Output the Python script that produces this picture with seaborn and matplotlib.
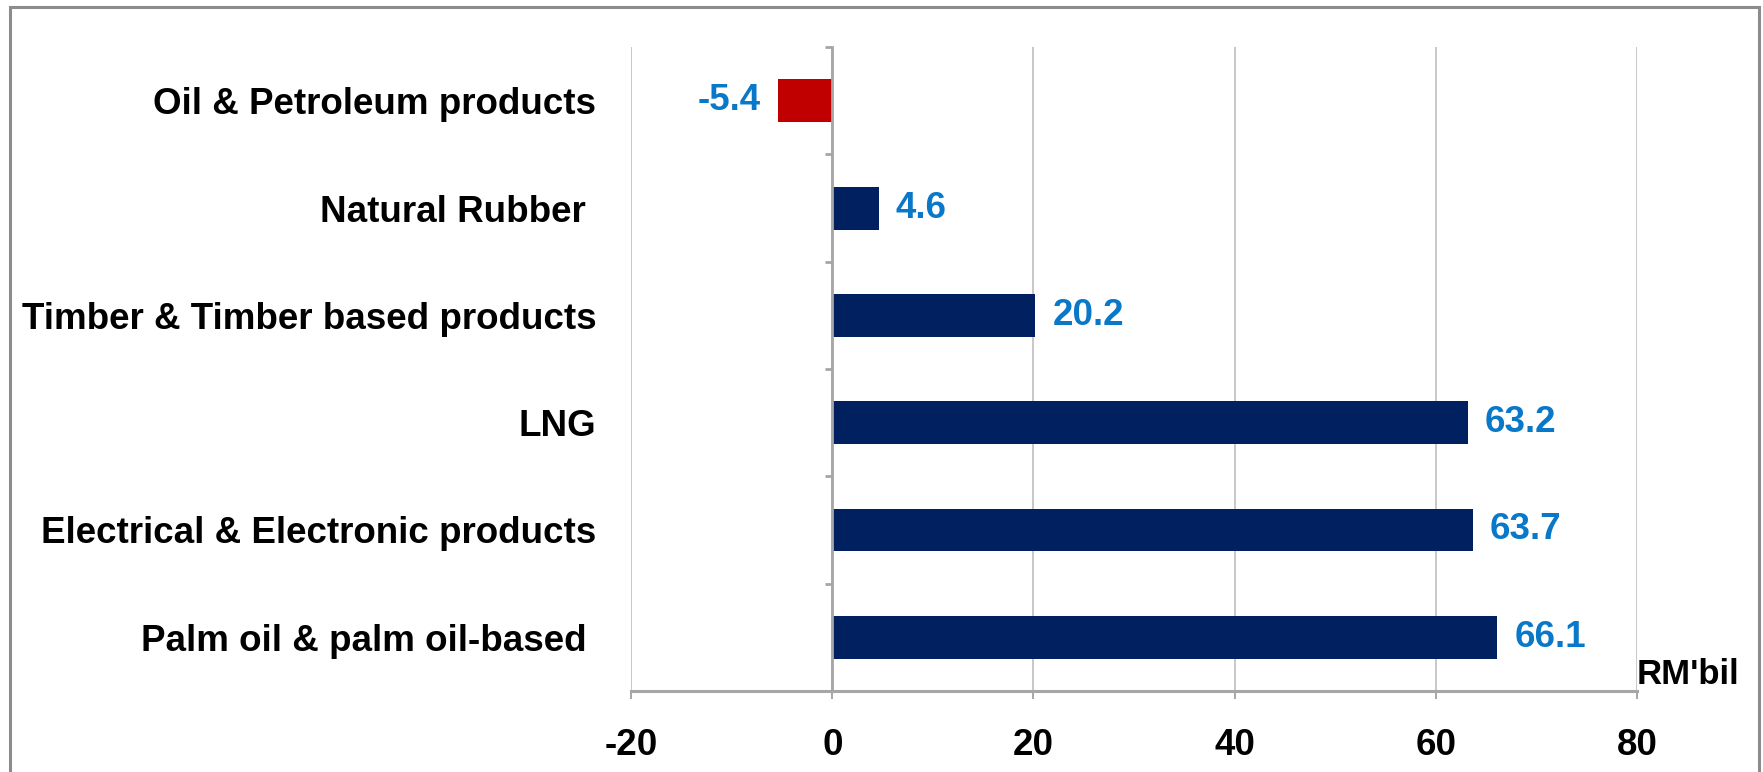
import matplotlib
matplotlib.use("Agg")
import matplotlib.pyplot as plt
from matplotlib.patches import Rectangle
from matplotlib.ticker import FixedLocator
import seaborn as sns
import pandas as pd

# Export growth by commodity, RM billion
categories = [
    "Oil & Petroleum products",
    "Natural Rubber ",
    "Timber & Timber based products",
    "LNG",
    "Electrical & Electronic products",
    "Palm oil & palm oil-based ",
]
values = [-5.4, 4.6, 20.2, 63.2, 63.7, 66.1]
value_labels = ["-5.4", "4.6", "20.2", "63.2", "63.7", "66.1"]
x_ticks = [-20, 0, 20, 40, 60, 80]
x_tick_labels = ["-20", "0", "20", "40", "60", "80"]
unit_label = "RM'bil"

NAVY = "#002060"
RED = "#C00000"
LABEL_BLUE = "#0A78C8"
GRID = "#C8C8C8"
AXIS_GREY = "#A6A6A6"
FS = 26.5

sns.set_theme(style="white")
plt.rcParams["font.family"] = ["Liberation Sans", "DejaVu Sans"]
plt.rcParams["font.weight"] = "bold"

df = pd.DataFrame({"category": categories, "value": values})
df["sign"] = ["neg" if v < 0 else "pos" for v in values]

fig = plt.figure(figsize=(17.63, 7.72), dpi=100)
ax = fig.add_axes([0.358, 0.105, 0.5705, 0.834])

sns.barplot(
    data=df, x="value", y="category", hue="sign",
    palette={"neg": RED, "pos": NAVY}, order=categories,
    width=0.4, dodge=False, legend=False, ax=ax,
    saturation=1, edgecolor="none", linewidth=0,
)

ax.set_xlim(-20, 80)
ax.set_ylim(len(categories) - 0.5, -0.5)
ax.set_xlabel("")
ax.set_ylabel("")

# vertical gridlines
ax.xaxis.set_major_locator(FixedLocator(x_ticks))
ax.set_xticklabels(x_tick_labels)
ax.grid(axis="x", color=GRID, linewidth=1.4)
ax.set_axisbelow(True)

for side in ("top", "left"):
    ax.spines[side].set_visible(False)
ax.spines["bottom"].set_color(AXIS_GREY)
ax.spines["bottom"].set_linewidth(2.2)

# category axis sits at zero, with ticks on category boundaries
ax.spines["right"].set_position(("data", 0))
ax.spines["right"].set_color(AXIS_GREY)
ax.spines["right"].set_linewidth(2.0)
ax.yaxis.set_minor_locator(FixedLocator([i - 0.5 for i in range(len(categories) + 1)]))
ax.tick_params(axis="y", which="major", left=False, right=False, labelleft=True,
               labelright=False, pad=19, labelsize=FS, labelcolor="black")
ax.tick_params(axis="y", which="minor", left=False, right=True, direction="in",
               length=5, width=2.0, color=AXIS_GREY)
ax.tick_params(axis="x", which="major", bottom=True, direction="out", length=6,
               width=1.4, color=AXIS_GREY, pad=21, labelsize=FS, labelcolor="black")
for lbl in ax.get_yticklabels() + ax.get_xticklabels():
    lbl.set_fontweight("bold")

# value labels next to each bar
for i, (v, txt) in enumerate(zip(values, value_labels)):
    off = 17 if v >= 0 else -17
    ax.annotate(txt, xy=(v, i), xytext=(off, 0), textcoords="offset pixels",
                ha="left" if v >= 0 else "right", va="center",
                fontsize=FS, fontweight="bold", color=LABEL_BLUE)

# unit label at the end of the value axis
ax.annotate(unit_label, xy=(80, len(categories) - 0.5), xytext=(0, 7),
            textcoords="offset pixels", ha="left", va="baseline",
            fontsize=25, fontweight="bold", color="black", annotation_clip=False)

# chart frame
fig.patches.append(Rectangle((10 / 1763, -0.05), 1749 / 1763, 1.05 - 7 / 772,
                             transform=fig.transFigure, fill=False,
                             edgecolor="#8C8C8C", linewidth=2.2))

fig.savefig("out.png", dpi=100, facecolor="white")
